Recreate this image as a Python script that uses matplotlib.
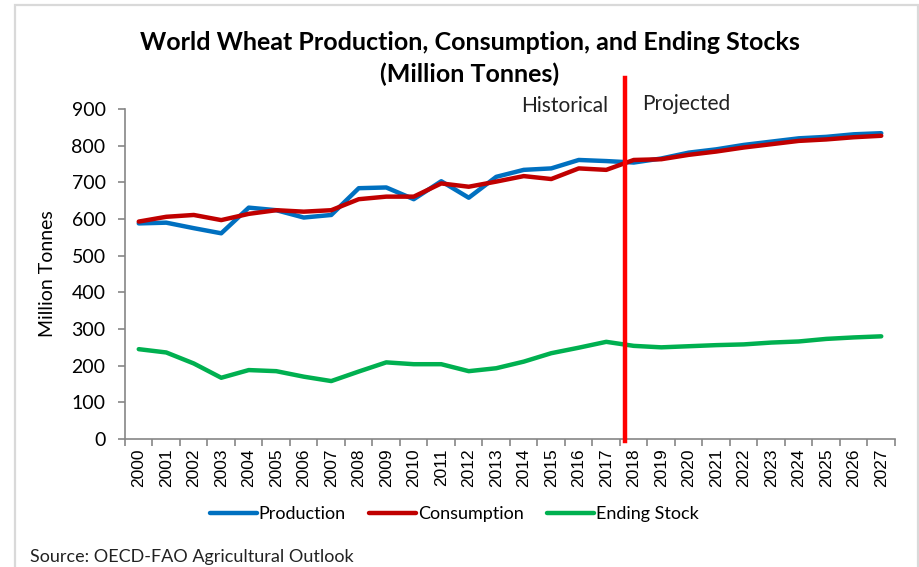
import numpy as np
from matplotlib import pyplot as plt
from matplotlib.lines import Line2D
from matplotlib.patches import Rectangle

years = [str(y) for y in range(2000, 2028)]

production = [588, 590, 575, 561, 631, 624, 604, 611, 684, 686,
              654, 703, 658, 715, 734, 738, 761, 758, 754, 765,
              781, 790, 802, 811, 820, 824, 831, 834]
consumption = [593, 606, 611, 597, 614, 624, 620, 624, 654, 661,
               661, 697, 688, 702, 717, 709, 738, 734, 761, 763,
               775, 784, 795, 804, 813, 817, 823, 827]
ending_stock = [245, 236, 206, 167, 188, 185, 170, 158, 184, 209,
                204, 204, 185, 193, 211, 234, 249, 265, 254, 250,
                253, 256, 258, 263, 266, 273, 277, 280]

split_pos = 17.68  # where the Historical / Projected line sits

calibri = "Lato"

fig = plt.figure(figsize=(9.2, 5.67), dpi=100)
ax = fig.add_axes([125/920, 1 - 439/567, 770/920, 330/567])

x = np.arange(len(years))
ax.plot(x, production, color="#0070C0", lw=3.2, solid_capstyle="round", label="Production")
ax.plot(x, consumption, color="#C00000", lw=3.2, solid_capstyle="round", label="Consumption")
ax.plot(x, ending_stock, color="#00B050", lw=3.2, solid_capstyle="round", label="Ending Stock")

ax.set_xlim(-0.5, len(years) - 0.5)
ax.set_ylim(0, 900)

# red separator line, reaching up above the plot area
ax.plot([split_pos, split_pos], [-5, 985], color="#FF0000", lw=3.2, clip_on=False, zorder=5)

for s in ["top", "right"]:
    ax.spines[s].set_visible(False)
for s in ["left", "bottom"]:
    ax.spines[s].set_color("#868686")
    ax.spines[s].set_linewidth(1.2)

ax.set_yticks(range(0, 901, 100))
ax.tick_params(axis="y", direction="out", length=5, color="#868686", width=1.2,
               labelsize=14, pad=9)
for lab in ax.get_yticklabels():
    lab.set_fontfamily(calibri)

ax.set_xticks(x)
ax.set_xticklabels(years, rotation=90, fontsize=12.5, family="Liberation Sans")
ax.tick_params(axis="x", length=0, pad=7)
ax.set_xticks(np.arange(-0.5, len(years)), minor=True)
ax.tick_params(axis="x", which="minor", direction="out", length=5, color="#868686", width=1.2)

ax.set_ylabel("Million Tonnes", fontsize=14, family=calibri)
ax.yaxis.set_label_coords(-69/770, 0.5)

fig.text(470/920, 1 - 42/567, "World Wheat Production, Consumption, and Ending Stocks",
         ha="center", va="center", fontsize=18, fontweight="bold", family=calibri)
fig.text(470/920, 1 - 74/567, "(Million Tonnes)",
         ha="center", va="center", fontsize=18, fontweight="bold", family=calibri)

fig.text(608/920, 1 - 106/567, "Historical", ha="right", va="center",
         fontsize=15, family=calibri, color="#222222")
fig.text(642/920, 1 - 104/567, "Projected", ha="left", va="center",
         fontsize=15, family=calibri, color="#222222")

handles = [Line2D([], [], color=c, lw=3.2, solid_capstyle="round")
           for c in ["#0070C0", "#C00000", "#00B050"]]
fig.legend(handles, ["Production", "Consumption", "Ending Stock"],
           loc="center", bbox_to_anchor=(454/920, 1 - 514/567), ncol=3,
           frameon=False, handlelength=2.6, handletextpad=0.1, columnspacing=1.3,
           prop={"family": calibri, "size": 13})

fig.text(30/920, 1 - 557/567, "Source: OECD-FAO Agricultural Outlook", ha="left",
         va="center", fontsize=13, family=calibri, color="#222222")

# light grey chart-area border
fig.patches.append(Rectangle((15/920, -0.1), (918 - 15)/920, 1.1 - 5/567,
                             transform=fig.transFigure, fill=False,
                             edgecolor="#D9D9D9", lw=1.6))

fig.savefig("out.png", dpi=100)
